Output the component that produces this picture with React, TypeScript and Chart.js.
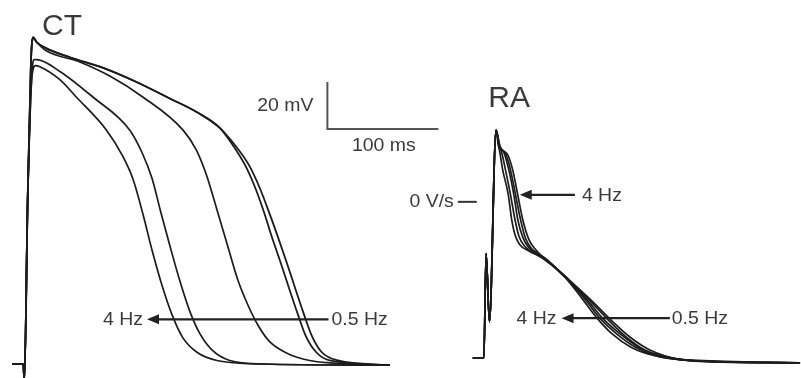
import { useEffect, useRef } from "react";
import { Chart, registerables } from "chart.js";

Chart.register(...registerables);

// ---- CT (crista terminalis) action potentials: time (ms from upstroke), Vm (mV)
// ordered from shortest (4 Hz) to longest (0.5 Hz)
const ctTime1 = [-17, -7, -6, -3, 1, 4, 8, 26, 41, 68, 82, 92, 101, 109, 118, 127, 137, 149.5, 167.5, 209, 323];
const ctVm1 = [-80, -80, -87.5, -10, 43, 47, 46.5, 41, 33.5, 19.5, 9, -1.5, -16.5, -31.5, -46.5, -59, -69, -75, -78.5, -80, -80.5];
const ctTime2 = [-17, -7, -6, -3, 1, 3, 5, 26, 56, 89, 100, 109, 117, 125, 134, 143, 152, 163, 179, 209, 323];
const ctVm2 = [-80, -80, -87.5, -10, 45, 49.5, 49.5, 44.5, 33.5, 19.5, 10, -1, -15.5, -29.5, -44.5, -57.5, -67, -74, -78.5, -80, -80.5];
const ctTime3 = [-17, -7, -6, -3, 0, 2, 5, 13, 44, 71, 101, 137, 149, 158, 167, 177, 186.5, 195.5, 204.5, 215, 231, 251, 269, 323];
const ctVm3 = [-80, -80, -87.5, -10, 49.5, 59, 57, 53.5, 48.5, 42.5, 33.5, 19.5, 11, 0.5, -13.5, -29.5, -44.5, -55, -63.5, -70.5, -75.5, -78.5, -79.5, -80.5];
const ctTime4 = [-17, -7, -6, -3, 0, 2, 5, 13, 35, 65, 95, 125, 150, 170, 182, 193, 202, 210, 217, 225, 233, 240.5, 247.5, 257, 269, 323];
const ctVm4 = [-80, -80, -87.5, -10, 49.5, 59, 57, 54.5, 50.5, 46, 40, 33, 27, 20.5, 13, 4.5, -5, -15.5, -26, -37, -48.5, -59, -68, -75, -78.5, -80.5];
const ctTime5 = [-17, -7, -6, -3, 0, 2, 5, 13, 35, 65, 95, 125, 150, 170, 184, 196.5, 206, 214.5, 222.5, 230.5, 238.5, 246, 253, 262, 276.5, 323];
const ctVm5 = [-80, -80, -87.5, -10, 49.5, 59, 57, 54.5, 50.5, 46, 40, 33, 27, 20.5, 13, 4.5, -5, -15.5, -26, -37, -48.5, -59, -68, -75, -78.5, -80.5];

// ---- RA (right atrium) action potentials: time (ms from upstroke), Vm (mV)
const raTime1 = [-18, -8, -6, -3, 3, 5, 6, 9, 14, 17, 20, 24, 33, 45, 65, 81, 94, 107, 125, 146, 178, 277];
const raVm1 = [-77.5, -77.5, -33, -62, 19.5, 13, 11, 2.5, -8, -18.5, -25, -29, -32, -35, -43, -52.5, -60.5, -67, -73, -76.5, -78.5, -79.5];
const raTime2 = [-18, -8, -6, -3, 3, 5.5, 8, 11.5, 16, 20, 23.5, 29, 38, 47, 66, 84, 96.5, 111, 129, 150.5, 184.5, 276.5];
const raVm2 = [-77.5, -77.5, -33, -62, 19.5, 13, 10, 2.5, -8, -18.5, -25.5, -30, -33, -35.5, -43.5, -53, -60.5, -67, -73, -77, -78.5, -79.5];
const raTime3 = [-18, -8, -6, -3, 3, 5.5, 10, 14.5, 19, 22.5, 27, 32.5, 40.5, 47.5, 66.5, 85.5, 100, 115.5, 133.5, 156, 191, 276.5];
const raVm3 = [-77.5, -77.5, -33, -62, 19.5, 13, 10, 2.5, -8, -18.5, -26, -30.5, -33, -35.5, -43.5, -53, -61, -67.5, -73.5, -77, -79, -79.5];
const raTime4 = [-18, -8, -6, -3, 3, 6.5, 11.5, 16, 20.5, 25, 29.5, 35, 42.5, 48.5, 67.5, 87.5, 103.5, 119, 137, 161, 197.5, 276.5];
const raVm4 = [-77.5, -77.5, -33, -62, 19.5, 12.5, 9.5, 2.5, -8, -18.5, -26.5, -31, -33.5, -35.5, -44, -53, -61, -68, -74, -77.5, -79, -79.5];
const raTime5 = [-18, -8, -6, -3, 3, 6.5, 13.5, 18, 22.5, 27, 32.5, 38, 44, 49.5, 69.5, 89, 107, 123.5, 141.5, 168.5, 204.5, 276.5];
const raVm5 = [-77.5, -77.5, -33, -62, 19.5, 12.5, 9, 2.5, -8, -18.5, -27, -31, -34, -36, -44.5, -53, -61.5, -68.5, -74, -78, -79, -79.5];

// ---- scale bar values
const SCALE_MS = 100;
const SCALE_MV = 20;

// ---- layout (ms / mV on the shared axes)
const RA_OFFSET_MS = 416;
const SCALE_BAR_T = 267;
const SCALE_BAR_V = 20;
const X_MIN = -27.93;
const X_MAX = 693.69;
const Y_MIN = -85.96;
const Y_MAX = 74.89;

const TRACE_COLOR = "#1c1c1c";
const TEXT_COLOR = "#3a3a3a";
const FONT = "'Liberation Sans', Arial, Helvetica, sans-serif";

function toPoints(t: number[], v: number[], offset = 0) {
  return t.map((x, i) => ({ x: x + offset, y: v[i] }));
}

type ArrowSpec = {
  v: number;
  tail: number;
  tip: number;
  left?: string;
  right?: string;
  rightGap: number;
  leftGap: number;
};

const ARROWS: ArrowSpec[] = [
  { v: -61, tail: 268, tip: 104.5, left: "4 Hz", right: "0.5 Hz", leftGap: 4, rightGap: 3 },
  { v: -8, tail: RA_OFFSET_MS + 74, tip: RA_OFFSET_MS + 24.3, right: "4 Hz", leftGap: 4, rightGap: 7 },
  { v: -60.5, tail: RA_OFFSET_MS + 159.5, tip: RA_OFFSET_MS + 62, left: "4 Hz", right: "0.5 Hz", leftGap: 5, rightGap: 2 },
];

export default function App() {
  const ref = useRef<HTMLCanvasElement | null>(null);

  useEffect(() => {
    const canvas = ref.current;
    if (!canvas) return;

    const trace = (data: { x: number; y: number }[], width = 1.7) => ({
      data,
      showLine: true,
      borderColor: TRACE_COLOR,
      borderWidth: width,
      pointRadius: 0,
      cubicInterpolationMode: "monotone",
      fill: false,
    });

    const datasets: any[] = [
      trace(toPoints(ctTime1, ctVm1)),
      trace(toPoints(ctTime2, ctVm2)),
      trace(toPoints(ctTime3, ctVm3)),
      trace(toPoints(ctTime4, ctVm4), 1.8),
      trace(toPoints(ctTime5, ctVm5), 1.8),
      trace(toPoints(raTime1, raVm1, RA_OFFSET_MS), 1.7),
      trace(toPoints(raTime2, raVm2, RA_OFFSET_MS), 1.7),
      trace(toPoints(raTime3, raVm3, RA_OFFSET_MS), 1.7),
      trace(toPoints(raTime4, raVm4, RA_OFFSET_MS), 1.7),
      trace(toPoints(raTime5, raVm5, RA_OFFSET_MS), 1.7),
      {
        data: [
          { x: SCALE_BAR_T, y: SCALE_BAR_V + SCALE_MV },
          { x: SCALE_BAR_T, y: SCALE_BAR_V },
          { x: SCALE_BAR_T + SCALE_MS, y: SCALE_BAR_V },
        ],
        showLine: true,
        borderColor: "#555",
        borderWidth: 2,
        pointRadius: 0,
        tension: 0,
        borderJoinStyle: "miter",
      },
    ];

    const bg = {
      id: "bg",
      beforeDraw(chart: any) {
        const c = chart.ctx;
        c.save();
        c.fillStyle = "#fff";
        c.fillRect(0, 0, chart.width, chart.height);
        c.restore();
      },
    };

    const labels = {
      id: "labels",
      afterDatasetsDraw(chart: any) {
        const c: CanvasRenderingContext2D = chart.ctx;
        const xs = chart.scales.x;
        const ys = chart.scales.y;
        const px = (t: number) => xs.getPixelForValue(t);
        const py = (v: number) => ys.getPixelForValue(v);

        const text = (s: string, x: number, y: number, align: CanvasTextAlign, size: number, stretch = 1.08, baseline: CanvasTextBaseline = "middle") => {
          c.save();
          c.translate(x, y);
          c.scale(stretch, 1);
          c.font = `${size}px ${FONT}`;
          c.fillStyle = TEXT_COLOR;
          c.textAlign = align;
          c.textBaseline = baseline;
          c.fillText(s, 0, 0);
          c.restore();
        };

        // panel titles
        text("CT", 42, 35, "left", 30, 1, "alphabetic");
        text("RA", px(RA_OFFSET_MS - 4), 107, "left", 30, 1, "alphabetic");

        // scale bar labels
        text(`${SCALE_MV} mV`, px(SCALE_BAR_T) - 14, py(SCALE_BAR_V + SCALE_MV / 2) + 1, "right", 18);
        text(`${SCALE_MS} ms`, px(SCALE_BAR_T + SCALE_MS / 2) + 1, py(SCALE_BAR_V) + 17, "center", 18);

        // 0 V/s marker
        const y0 = py(-11);
        c.save();
        c.strokeStyle = "#333";
        c.lineWidth = 2;
        c.beginPath();
        c.moveTo(px(RA_OFFSET_MS - 31.5), y0);
        c.lineTo(px(RA_OFFSET_MS - 14.4), y0);
        c.stroke();
        c.restore();
        text("0 V/s", px(RA_OFFSET_MS - 31.5) - 4, y0, "right", 18);

        // arrows
        for (const a of ARROWS) {
          const y = py(a.v);
          const xt = px(a.tip);
          const xl = px(a.tail);
          c.save();
          c.strokeStyle = "#222";
          c.fillStyle = "#222";
          c.lineWidth = 2.2;
          c.beginPath();
          c.moveTo(xl, y);
          c.lineTo(xt + 8, y);
          c.stroke();
          c.beginPath();
          c.moveTo(xt, y);
          c.lineTo(xt + 12, y - 5);
          c.lineTo(xt + 12, y + 5);
          c.closePath();
          c.fill();
          c.restore();
          if (a.left) text(a.left, xt - a.leftGap, y + 1, "right", 18);
          if (a.right) text(a.right, xl + a.rightGap, y + 1, "left", 18);
        }
      },
    };

    const chart = new Chart(canvas, {
      type: "scatter",
      data: { datasets },
      options: {
        animation: false,
        responsive: false,
        maintainAspectRatio: false,
        devicePixelRatio: 1,
        layout: { padding: 0 },
        events: [],
        plugins: { legend: { display: false }, tooltip: { enabled: false }, title: { display: false } },
        scales: {
          x: { type: "linear", min: X_MIN, max: X_MAX, display: false },
          y: { type: "linear", min: Y_MIN, max: Y_MAX, display: false },
        },
      },
      plugins: [bg, labels],
    });

    return () => chart.destroy();
  }, []);

  return (
    <div style={{ position: "fixed", left: 0, top: 0, width: 801, height: 378, background: "#fff" }}>
      <canvas ref={ref} width={801} height={378} style={{ display: "block", width: 801, height: 378 }} />
    </div>
  );
}
